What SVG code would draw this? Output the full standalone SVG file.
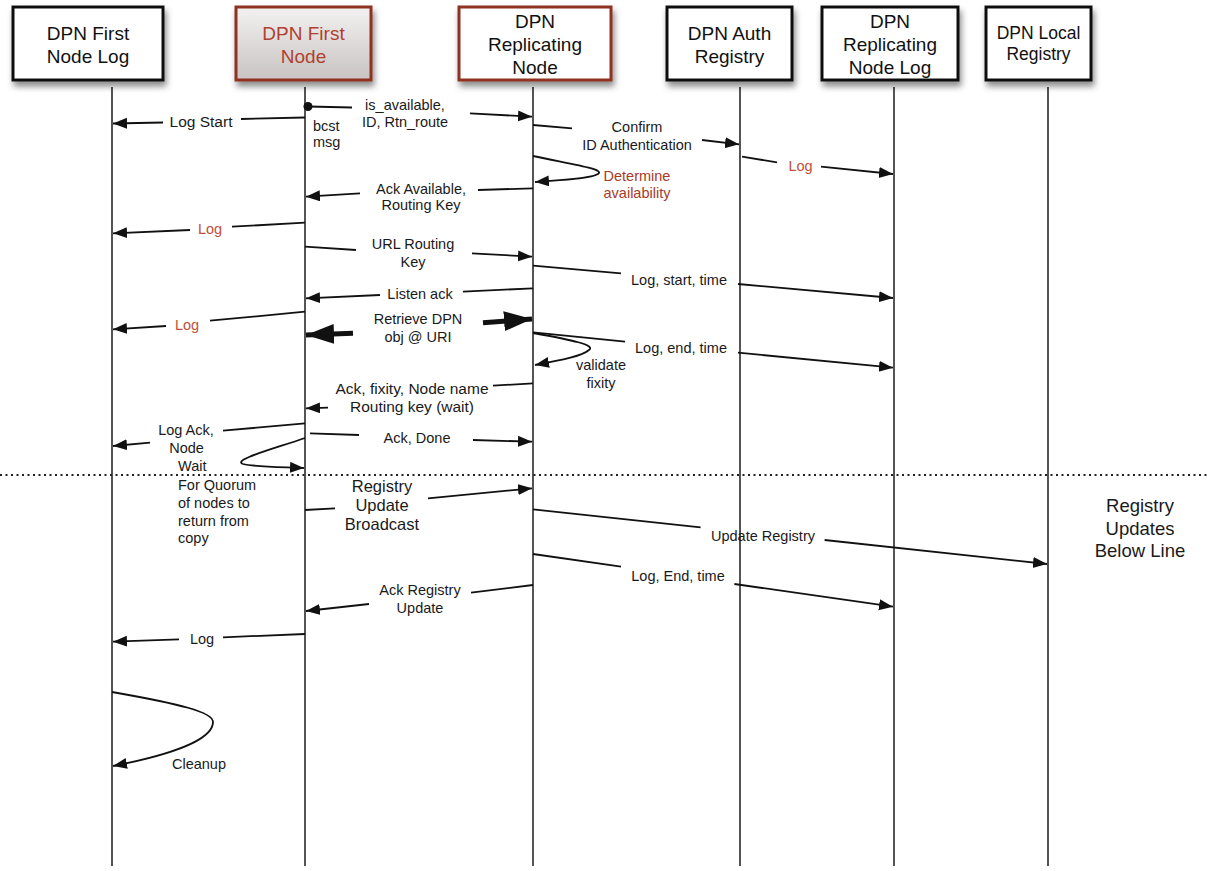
<svg xmlns="http://www.w3.org/2000/svg" width="1207" height="871" viewBox="0 0 1207 871">
<defs>
<style>
.box{stroke:#111;stroke-width:3;fill:#fff}
.rbox{stroke:#8e3020;stroke-width:3}
.nt{font-family:"Liberation Sans",Arial,sans-serif;font-size:19px;fill:#111;text-anchor:middle}
.red{fill:#b0412e}
.life{stroke:#2a2a2a;stroke-width:1.6;fill:none}
.msg{stroke:#111;stroke-width:1.8;fill:none}
.arr{stroke:#111;stroke-width:1.8;fill:none;marker-end:url(#ah)}
.thick{stroke:#111;stroke-width:5;fill:none;marker-end:url(#big)}
.lt{font-family:"Liberation Sans",Arial,sans-serif;font-size:14.5px;fill:#1a1a1a;text-anchor:middle}
.lr{fill:#c0503a}
.ll{text-anchor:start}
</style>
<marker id="ah" markerUnits="userSpaceOnUse" markerWidth="16" markerHeight="12" refX="14" refY="5.5" orient="auto"><path d="M0,0 L14,5.5 L0,11 z" fill="#111"/></marker>
<marker id="big" markerUnits="userSpaceOnUse" markerWidth="30" markerHeight="22" refX="28" refY="10" orient="auto"><path d="M0,0 L28,10 L0,20 z" fill="#111"/></marker>
<filter id="sh" x="-10%" y="-10%" width="130%" height="140%"><feDropShadow dx="2" dy="5" stdDeviation="3" flood-color="#000" flood-opacity="0.45"/></filter>
<linearGradient id="gr" x1="0" y1="0" x2="0" y2="1"><stop offset="0" stop-color="#f3f1f1"/><stop offset="1" stop-color="#c9c3c3"/></linearGradient>
</defs>
<rect width="1207" height="871" fill="#fff"/>

<g id="lifelines">
<line class="life" x1="112" y1="87" x2="112" y2="866"/>
<line class="life" x1="305" y1="87" x2="305" y2="866"/>
<line class="life" x1="533" y1="87" x2="533" y2="866"/>
<line class="life" x1="740" y1="87" x2="740" y2="866"/>
<line class="life" x1="894" y1="87" x2="894" y2="866"/>
<line class="life" x1="1048" y1="87" x2="1048" y2="866"/>
</g>

<g id="node-first-node-log">
<rect class="box" x="13" y="7" width="150" height="73" filter="url(#sh)"/>
<text class="nt" x="88" y="40">DPN First</text>
<text class="nt" x="88" y="63">Node Log</text>
</g>
<g id="node-first-node">
<rect class="rbox" x="236" y="7" width="135" height="73" fill="url(#gr)" filter="url(#sh)"/>
<text class="nt red" x="303.5" y="40">DPN First</text>
<text class="nt red" x="303.5" y="63">Node</text>
</g>
<g id="node-replicating-node">
<rect class="rbox" x="459" y="7" width="152" height="73" fill="#fff" filter="url(#sh)"/>
<text class="nt" x="535" y="28">DPN</text>
<text class="nt" x="535" y="51">Replicating</text>
<text class="nt" x="535" y="74">Node</text>
</g>
<g id="node-auth-registry">
<rect class="box" x="667" y="7" width="125" height="73" filter="url(#sh)"/>
<text class="nt" x="729.5" y="40">DPN Auth</text>
<text class="nt" x="729.5" y="63">Registry</text>
</g>
<g id="node-replicating-node-log">
<rect class="box" x="822" y="7" width="136" height="73" filter="url(#sh)"/>
<text class="nt" x="890" y="28">DPN</text>
<text class="nt" x="890" y="51">Replicating</text>
<text class="nt" x="890" y="74">Node Log</text>
</g>
<g id="node-local-registry">
<rect class="box" x="986" y="7" width="105" height="73" filter="url(#sh)"/>
<text class="nt" x="1038.5" y="39" style="font-size:17.5px">DPN Local</text>
<text class="nt" x="1038.5" y="60" style="font-size:17.5px">Registry</text>
</g>

<g id="connectors">
<circle cx="308" cy="106.5" r="4.5" fill="#111"/>
<line class="msg" x1="308" y1="106.5" x2="352" y2="107.5"/>
<line class="arr" x1="470" y1="113.3" x2="532" y2="116.7"/>
<line class="msg" x1="305" y1="117.5" x2="241" y2="119"/>
<line class="arr" x1="163" y1="122.5" x2="113" y2="123.5"/>
<line class="msg" x1="533" y1="125" x2="572" y2="128.3"/>
<line class="arr" x1="702" y1="140" x2="739" y2="144.3"/>
<line class="msg" x1="742" y1="156.7" x2="777" y2="162.3"/>
<line class="arr" x1="821" y1="166.7" x2="893" y2="174"/>
<path class="arr" d="M533,156 C570,164 606,169 598,174 C590,179 560,180 535,182"/>
<line class="msg" x1="533" y1="188.3" x2="478" y2="190"/>
<line class="arr" x1="360" y1="193.3" x2="306" y2="196.7"/>
<line class="msg" x1="305" y1="222.7" x2="232" y2="226.7"/>
<line class="arr" x1="190" y1="230" x2="113" y2="233.3"/>
<line class="msg" x1="305" y1="246.7" x2="356" y2="250"/>
<line class="arr" x1="472" y1="253.3" x2="532" y2="256.7"/>
<line class="msg" x1="533" y1="265.7" x2="621" y2="273.3"/>
<line class="arr" x1="738" y1="284" x2="893" y2="298"/>
<line class="msg" x1="533" y1="288.3" x2="463" y2="291.7"/>
<line class="arr" x1="380" y1="295" x2="306" y2="298.3"/>
<line class="msg" x1="305" y1="311.7" x2="210" y2="320.7"/>
<line class="arr" x1="166" y1="326" x2="113" y2="329.3"/>
<line class="thick" x1="483" y1="322.7" x2="532" y2="319"/>
<line class="thick" x1="353" y1="333.3" x2="306" y2="335"/>
<line class="msg" x1="533" y1="332.3" x2="625" y2="341.7"/>
<line class="arr" x1="738" y1="352.7" x2="893" y2="367.7"/>
<path class="arr" d="M533,333 C572,340 596,345 589,350 C582,356 562,360 535,365"/>
<line class="msg" x1="533" y1="383.3" x2="493" y2="385.7"/>
<line class="arr" x1="328" y1="407.7" x2="306" y2="408.3"/>
<line class="msg" x1="305" y1="423.3" x2="223" y2="430.7"/>
<line class="arr" x1="150" y1="442.7" x2="113" y2="446"/>
<line class="msg" x1="310" y1="433.3" x2="359" y2="435"/>
<line class="arr" x1="473" y1="440" x2="532" y2="441.7"/>
<path class="arr" d="M305,438 C270,450 232,460 243,464 C255,467 282,467 304,468"/>
<line x1="0" y1="475" x2="1207" y2="475" stroke="#222" stroke-width="2.2" stroke-dasharray="2 3.5"/>
<line class="msg" x1="305" y1="510" x2="335" y2="508.3"/>
<line class="arr" x1="428" y1="498.3" x2="532" y2="488.3"/>
<line class="msg" x1="533" y1="509.3" x2="700.6" y2="527.3"/>
<line class="arr" x1="824.6" y1="540" x2="1047" y2="564"/>
<line class="msg" x1="533" y1="554" x2="621" y2="566.7"/>
<line class="arr" x1="734.4" y1="584" x2="893" y2="606.7"/>
<line class="msg" x1="533" y1="585" x2="471" y2="592.7"/>
<line class="arr" x1="369" y1="604" x2="306" y2="611"/>
<line class="msg" x1="305" y1="634" x2="223" y2="637.3"/>
<line class="arr" x1="179" y1="639.3" x2="113" y2="641.7"/>
<path class="arr" d="M112,692 C180,704 213,712 213,722 C213,740 170,755 113,766"/>
</g>

<g id="labels">
<text class="lt" x="405" y="110">is_available,</text>
<text class="lt" x="405" y="127">ID, Rtn_route</text>
<text class="lt ll" x="313" y="131">bcst</text>
<text class="lt ll" x="313" y="147">msg</text>
<text class="lt" x="201" y="127" style="font-size:15.5px">Log Start</text>
<text class="lt" x="637" y="132">Confirm</text>
<text class="lt" x="637" y="150">ID Authentication</text>
<text class="lt lr" x="800.5" y="171">Log</text>
<text class="lt" x="637" y="181" style="fill:#a63a28">Determine</text>
<text class="lt" x="637" y="198" style="fill:#a63a28">availability</text>
<text class="lt" x="421" y="194">Ack Available,</text>
<text class="lt" x="421" y="210">Routing Key</text>
<text class="lt lr" x="210" y="234">Log</text>
<text class="lt" x="413" y="249">URL Routing</text>
<text class="lt" x="413" y="267">Key</text>
<text class="lt" x="679" y="285">Log, start, time</text>
<text class="lt" x="420" y="299">Listen ack</text>
<text class="lt lr" x="187" y="330">Log</text>
<text class="lt" x="418" y="324">Retrieve DPN</text>
<text class="lt" x="418" y="342">obj @ URI</text>
<text class="lt" x="681" y="353">Log, end, time</text>
<text class="lt" x="601" y="370">validate</text>
<text class="lt" x="601" y="388">fixity</text>
<text class="lt" x="412" y="394" style="font-size:15.5px">Ack, fixity, Node name</text>
<text class="lt" x="412" y="412" style="font-size:15.5px">Routing key (wait)</text>
<text class="lt" x="186" y="435">Log Ack,</text>
<text class="lt" x="186.5" y="453">Node</text>
<text class="lt" x="417" y="443">Ack, Done</text>
<text class="lt ll" x="178" y="471">Wait</text>
<text class="lt ll" x="178" y="490">For Quorum</text>
<text class="lt ll" x="178" y="508">of nodes to</text>
<text class="lt ll" x="178" y="526">return from</text>
<text class="lt ll" x="178" y="543">copy</text>
<text class="lt" x="382" y="492" style="font-size:16.5px">Registry</text>
<text class="lt" x="382" y="511" style="font-size:16.5px">Update</text>
<text class="lt" x="382" y="530" style="font-size:16.5px">Broadcast</text>
<text class="lt" x="763" y="541">Update Registry</text>
<text class="lt" x="678" y="581">Log, End, time</text>
<text class="lt" x="420" y="595">Ack Registry</text>
<text class="lt" x="420" y="613">Update</text>
<text class="lt" x="202" y="644">Log</text>
<text class="lt" x="199" y="769">Cleanup</text>
<text class="lt" x="1140" y="512" style="font-size:18.5px">Registry</text>
<text class="lt" x="1140" y="535" style="font-size:18.5px">Updates</text>
<text class="lt" x="1140" y="557" style="font-size:18.5px">Below Line</text>
</g>
</svg>
